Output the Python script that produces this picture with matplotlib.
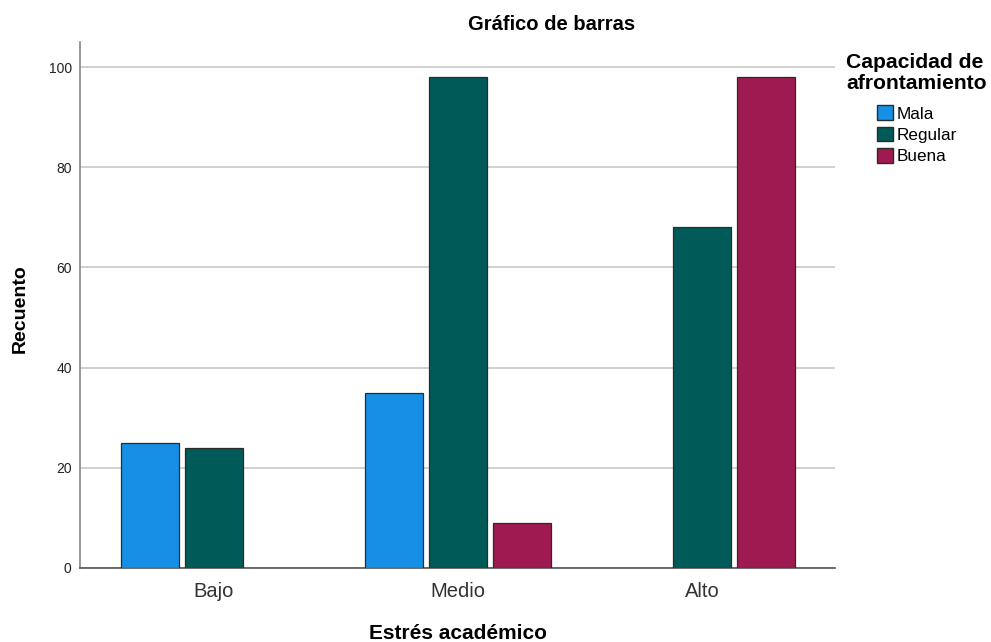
import numpy as np
import matplotlib
matplotlib.use("Agg")
import matplotlib.pyplot as plt
from matplotlib.patches import Patch

plt.rcParams['font.family'] = ['Liberation Sans', 'DejaVu Sans']

categories = ["Bajo", "Medio", "Alto"]
series_names = ["Mala", "Regular", "Buena"]
mala = [25, 35, 0]
regular = [24, 98, 68]
buena = [0, 9, 98]
colors = ["#1590e6", "#005a58", "#9e1a50"]

fig = plt.figure(figsize=(9.91, 6.42), dpi=100)
ax = fig.add_axes([0.0807, 0.1153, 0.7619, 0.8193])

x = np.arange(len(categories))
step = 64 / 244
width = 58 / 244
for i, (vals, c) in enumerate(zip([mala, regular, buena], colors)):
    v = np.array(vals, dtype=float)
    mask = v > 0
    ax.bar(x[mask] + (i - 1) * step, v[mask], width=width, color=c,
           edgecolor="#2b2b2b", linewidth=0.9, zorder=3)

ax.set_xlim(-0.549, 2.545)
ax.set_ylim(0, 105)
ax.set_yticks([0, 20, 40, 60, 80, 100])
ax.yaxis.grid(True, color="#c8c8c8", linewidth=1.2, zorder=0)
ax.set_axisbelow(True)
ax.set_xticks(x)
ax.set_xticklabels(categories, fontsize=14.5, color="#333333")
ax.tick_params(axis="x", length=0, pad=10)
ax.tick_params(axis="y", length=0, pad=6, labelsize=10, labelcolor="#222222")
for s in ["top", "right"]:
    ax.spines[s].set_visible(False)
ax.spines["left"].set_color("#888888")
ax.spines["bottom"].set_color("#555555")
ax.spines["left"].set_linewidth(1.2)
ax.spines["bottom"].set_linewidth(1.2)

fig.text(0.557, 0.9626, "Gráfico de barras", ha="center", va="center",
         fontsize=14.5, fontweight="bold")
fig.text(0.4622, 0.014, "Estrés académico", ha="center", va="center",
         fontsize=15, fontweight="bold")
fig.text(0.02, 0.52, "Recuento", ha="center", va="center", rotation=90,
         fontsize=14, fontweight="bold")

fig.text(0.8537, 0.9034, "Capacidad de", ha="left", va="center",
         fontsize=15.2, fontweight="bold")
fig.text(0.8537, 0.8707, "afrontamiento", ha="left", va="center",
         fontsize=15.2, fontweight="bold")
handles = [Patch(facecolor=c, edgecolor="#2b2b2b", label=n)
           for c, n in zip(colors, series_names)]
fig.legend(handles=handles, loc="upper left", bbox_to_anchor=(0.885, 0.836),
           frameon=False, fontsize=12.3, handlelength=0.95, handleheight=0.95,
           handletextpad=0.2, labelspacing=0.3, borderaxespad=0, borderpad=0)

fig.savefig("out.png", dpi=100)
